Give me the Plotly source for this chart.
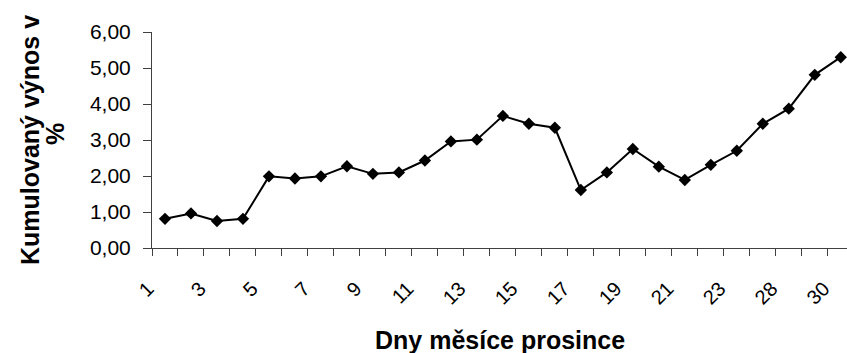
import plotly.graph_objects as go

# Trading days in December and the cumulative return (%) at each close
days = [1, 2, 3, 4, 5, 6, 7, 8, 9, 10, 11, 12, 13, 14, 15, 16, 17, 18, 19, 20,
        21, 22, 23, 27, 28, 29, 30]
cum_return = [0.81, 0.96, 0.75, 0.81, 1.99, 1.93, 1.99, 2.27, 2.06, 2.10,
              2.43, 2.96, 3.01, 3.67, 3.45, 3.34, 1.61, 2.10, 2.75, 2.26,
              1.89, 2.31, 2.70, 3.45, 3.87, 4.81, 5.30]

y_title = "Kumulovaný výnos v"
y_title_2 = "%"
x_title = "Dny měsíce prosince"

FONT = "Liberation Sans, Arial, sans-serif"
AXIS_COLOR = "#404040"

pos = list(range(len(days)))

fig = go.Figure(
    go.Scatter(
        x=pos,
        y=cum_return,
        mode="lines+markers",
        line=dict(color="black", width=2),
        marker=dict(symbol="diamond", size=9.5, color="black"),
        hoverinfo="skip",
    )
)

fig.update_layout(
    width=847,
    height=353,
    margin=dict(l=152, r=0, t=32, b=105),
    paper_bgcolor="white",
    plot_bgcolor="white",
    showlegend=False,
    separators=", ",
    font=dict(family=FONT, color="black", size=20),
)

fig.update_xaxes(
    range=[-0.5, 26.24],
    showgrid=False,
    zeroline=False,
    showline=True,
    linecolor=AXIS_COLOR,
    linewidth=1,
    tickvals=pos[::2],
    ticktext=[str(d) for d in days[::2]],
    tickangle=-45,
    ticks="",
    ticklabelstandoff=20,
    ticklabelshift=-17,
    tickfont=dict(size=20),
    minor=dict(tick0=-0.5, dtick=1, ticks="outside", ticklen=7,
               tickcolor=AXIS_COLOR, tickwidth=1, showgrid=False),
)

fig.update_yaxes(
    range=[0, 6],
    dtick=1,
    tickformat=".2f",
    showgrid=False,
    zeroline=False,
    showline=True,
    linecolor=AXIS_COLOR,
    linewidth=1,
    ticks="outside",
    ticklen=8,
    tickcolor=AXIS_COLOR,
    ticklabelstandoff=8,
    tickfont=dict(size=21),
)

title_font = dict(family=FONT, size=25, color="black", weight="bold")

fig.add_annotation(
    text=f"<b>{y_title}</b>", xref="paper", yref="paper", x=0, y=0.5,
    xanchor="center", yanchor="middle", xshift=-122, textangle=-90,
    showarrow=False, font=title_font,
)
fig.add_annotation(
    text=f"<b>{y_title_2}</b>", xref="paper", yref="paper", x=0, y=0.5,
    xanchor="center", yanchor="middle", xshift=-97, yshift=6, textangle=-90,
    showarrow=False, font=title_font,
)
fig.add_annotation(
    text=f"<b>{x_title}</b>", xref="paper", yref="paper", x=0.5, y=0,
    xanchor="center", yanchor="middle", yshift=-92,
    showarrow=False, font=title_font,
)

fig.write_html("out.html")
